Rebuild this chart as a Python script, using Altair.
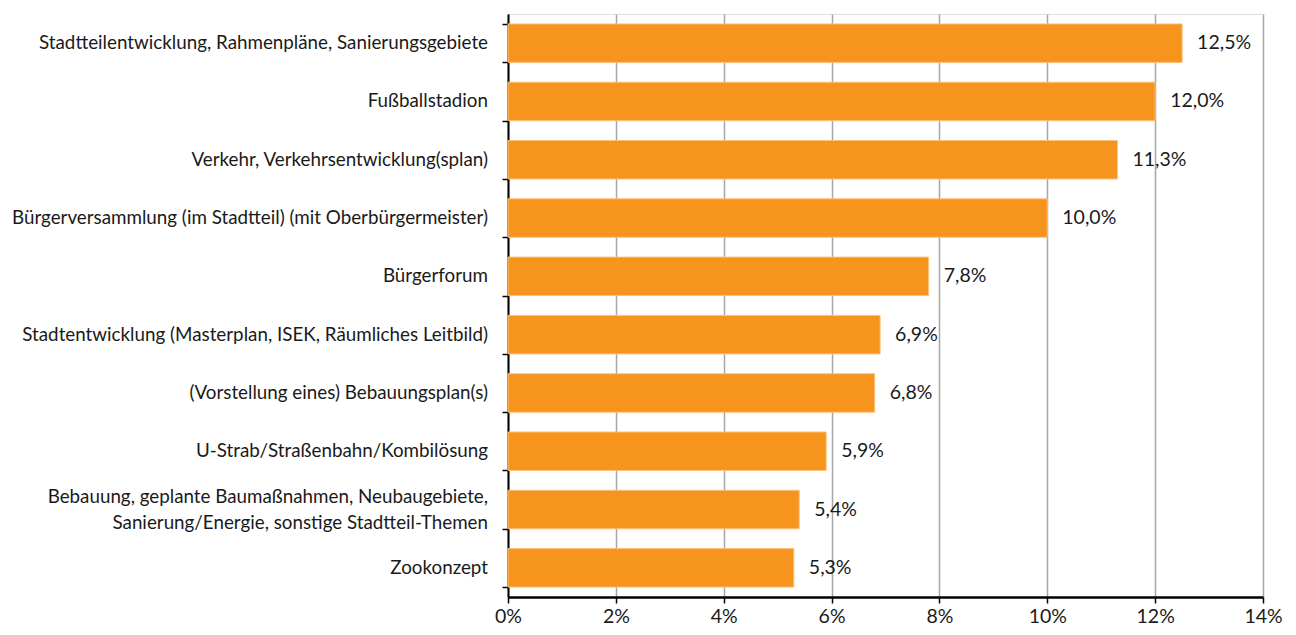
import altair as alt
import pandas as pd

categories = [
    "Stadtteilentwicklung, Rahmenpläne, Sanierungsgebiete",
    "Fußballstadion",
    "Verkehr, Verkehrsentwicklung(splan)",
    "Bürgerversammlung (im Stadtteil) (mit Oberbürgermeister)",
    "Bürgerforum",
    "Stadtentwicklung (Masterplan, ISEK, Räumliches Leitbild)",
    "(Vorstellung eines) Bebauungsplan(s)",
    "U-Strab/Straßenbahn/Kombilösung",
    "Bebauung, geplante Baumaßnahmen, Neubaugebiete,|Sanierung/Energie, sonstige Stadtteil-Themen",
    "Zookonzept",
]
values = [12.5, 12.0, 11.3, 10.0, 7.8, 6.9, 6.8, 5.9, 5.4, 5.3]
x_ticks = [0, 2, 4, 6, 8, 10, 12, 14]

df = pd.DataFrame({"cat": categories, "val": values})

FONT = "Lato"
TXT = "#1a1a1a"
FS = 18.8

base = alt.Chart(df).transform_calculate(
    lbl="replace(format(datum.val, '.1f'), '.', ',') + '%'",
    l1="split(datum.cat, '|')[0]",
    l2="length(split(datum.cat, '|')) > 1 ? split(datum.cat, '|')[1] : ''",
    multi="indexof(datum.cat, '|') >= 0",
)

y_axis = alt.Axis(
    labels=False,
    tickBand="extent",
    tickSize=6,
    tickColor="#000000",
    tickWidth=1.5,
    domainColor="#000000",
    domainWidth=2,
    grid=False,
)
y_enc = alt.Y(
    "cat:N",
    sort=categories,
    title=None,
    scale=alt.Scale(paddingInner=0.34, paddingOuter=0.17),
    axis=y_axis,
)
y_plain = alt.Y("cat:N", sort=categories)

bars = base.mark_bar(color="#F7941D", stroke="#FBC07A", strokeWidth=1).encode(
    x=alt.X(
        "val:Q",
        title=None,
        scale=alt.Scale(domain=[0, 14], nice=False),
        axis=alt.Axis(
            values=x_ticks,
            labelExpr="datum.value + '%'",
            labelFont=FONT,
            labelFontSize=FS + 0.7,
            labelColor=TXT,
            labelPadding=4,
            labelFlush=False,
            tickSize=6,
            tickColor="#000000",
            tickWidth=1.5,
            domainColor="#000000",
            domainWidth=2.5,
            grid=True,
            gridColor="#A6A6A6",
            gridWidth=1.5,
        ),
    ),
    y=y_enc,
)

values_text = base.mark_text(
    align="left", baseline="middle", dx=15, font=FONT, fontSize=FS + 0.7, color=TXT
).encode(
    x=alt.X("val:Q"),
    y=y_plain,
    text="lbl:N",
)

cat_single = base.transform_filter("!datum.multi").mark_text(
    align="right", baseline="middle", font=FONT, fontSize=FS, color=TXT
).encode(x=alt.value(-20), y=y_plain, text="l1:N")

cat_top = base.transform_filter("datum.multi").mark_text(
    align="right", baseline="middle", dy=-13, font=FONT, fontSize=FS, color=TXT
).encode(x=alt.value(-20), y=y_plain, text="l1:N")

cat_bottom = base.transform_filter("datum.multi").mark_text(
    align="right", baseline="middle", dy=13, font=FONT, fontSize=FS, color=TXT
).encode(x=alt.value(-20), y=y_plain, text="l2:N")

chart = (
    alt.layer(bars, values_text, cat_single, cat_top, cat_bottom)
    .properties(
        width=755,
        height=583,
        autosize=alt.AutoSizeParams(type="none"),
        padding={"left": 500, "top": 6, "right": 25, "bottom": 30},
    )
    .configure_view(stroke=None)
    .configure(background="white")
)

chart.save("out.html", embed_options={"renderer": "svg", "actions": False})
